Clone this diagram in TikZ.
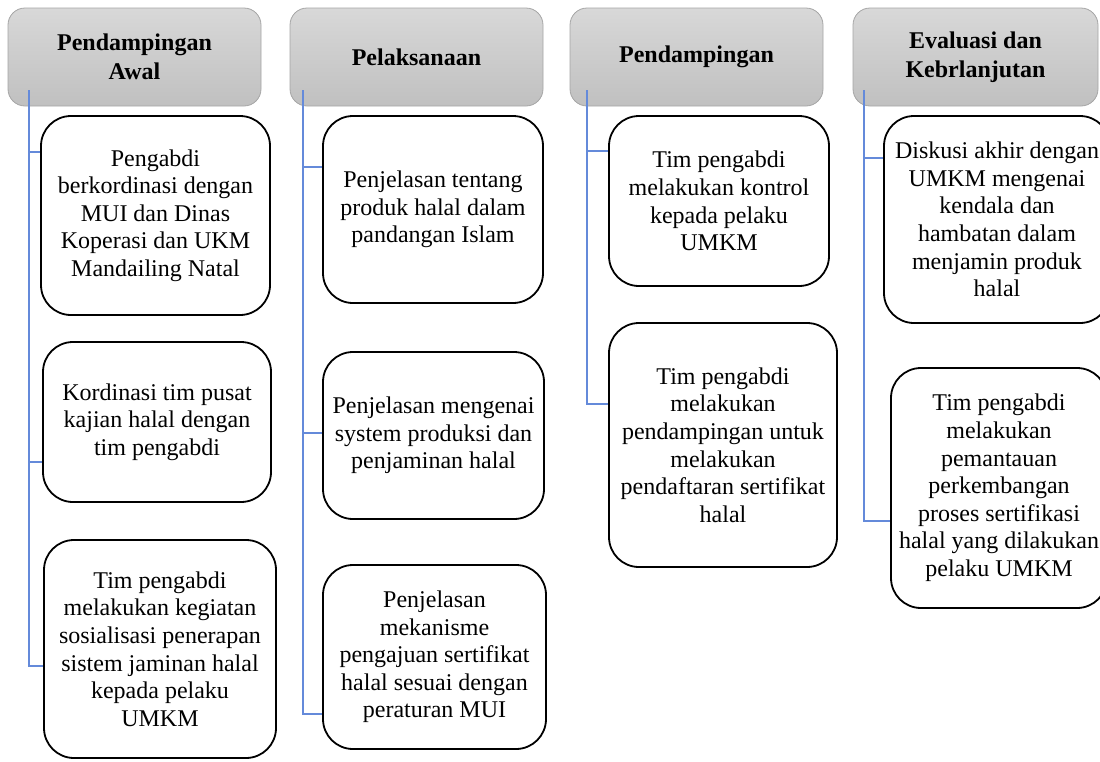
\documentclass[tikz,border=0pt]{standalone}
\usepackage{fontspec}
\setmainfont{Liberation Serif}
\definecolor{hdtop}{RGB}{216,216,216}
\definecolor{hdbot}{RGB}{192,192,192}
\definecolor{hdline}{RGB}{165,165,165}
\definecolor{connblue}{RGB}{100,138,218}
\tikzset{
  hdr/.style={rectangle, rounded corners=17pt, draw=hdline, line width=0.8pt,
    top color=hdtop, bottom color=hdbot, align=center, inner sep=0pt,
    font=\fontsize{24}{28.5}\selectfont\bfseries, minimum height=98pt},
  stepbox/.style={rectangle, rounded corners=30pt, draw=black, line width=1.8pt,
    fill=white, align=center, inner sep=0pt,
    font=\fontsize{24}{27.6}\selectfont},
  conn/.style={draw=connblue, line width=1.4pt}
}
\begin{document}
\begin{tikzpicture}[x=1pt,y=-1pt]
\useasboundingbox (0,0) rectangle (1100,761);
% headers
\node[hdr, minimum width=253pt] (h1) at (134.5,57) {Pendampingan\\Awal};
\node[hdr, minimum width=253pt] (h2) at (416.5,57) {Pelaksanaan};
\node[hdr, minimum width=253pt] (h3) at (696.5,57) {Pendampingan};
\node[hdr, minimum width=245pt] (h4) at (975.5,57) {Evaluasi dan\\Kebrlanjutan};
% column 1
\node[stepbox, minimum width=229pt, minimum height=199pt] (c11) at (155.5,215.5)
  {Pengabdi\\berkordinasi dengan\\MUI dan Dinas\\Koperasi dan UKM\\Mandailing Natal};
\node[stepbox, minimum width=228pt, minimum height=160pt] (c12) at (157,422)
  {Kordinasi tim pusat\\kajian halal dengan\\tim pengabdi};
\node[stepbox, minimum width=232pt, minimum height=218pt] (c13) at (160,649)
  {Tim pengabdi\\melakukan kegiatan\\sosialisasi penerapan\\sistem jaminan halal\\kepada pelaku\\UMKM};
% column 2
\node[stepbox, minimum width=220pt, minimum height=187pt] (c21) at (433,209.5)
  {Penjelasan tentang\\produk halal dalam\\pandangan Islam};
\node[stepbox, minimum width=221pt, minimum height=167pt] (c22) at (433.5,435.5)
  {Penjelasan mengenai\\system produksi dan\\penjaminan halal};
\node[stepbox, minimum width=223pt, minimum height=184pt] (c23) at (434.5,657)
  {Penjelasan\\mekanisme\\pengajuan sertifikat\\halal sesuai dengan\\peraturan MUI};
% column 3
\node[stepbox, minimum width=220pt, minimum height=170pt] (c31) at (719,201)
  {Tim pengabdi\\melakukan kontrol\\kepada pelaku\\UMKM};
\node[stepbox, minimum width=228pt, minimum height=244pt] (c32) at (723,445)
  {Tim pengabdi\\melakukan\\pendampingan untuk\\melakukan\\pendaftaran sertifikat\\halal};
% column 4
\node[stepbox, minimum width=226pt, minimum height=207pt] (c41) at (997,219.5)
  {Diskusi akhir dengan\\UMKM mengenai\\kendala dan\\hambatan dalam\\menjamin produk\\halal};
\node[stepbox, minimum width=216pt, minimum height=240pt] (c42) at (999,488)
  {Tim pengabdi\\melakukan\\pemantauan\\perkembangan\\proses sertifikasi\\halal yang dilakukan\\pelaku UMKM};
% connectors
\coordinate (s1) at (29,90);
\coordinate (s2) at (303,90);
\coordinate (s3) at (587,90);
\coordinate (s4) at (864,90);
\draw[conn] (s1) |- (c13.west |- 0,666);
\draw[conn] (s1 |- 0,152) -- (c11.west |- 0,152);
\draw[conn] (s1 |- 0,462) -- (c12.west |- 0,462);
\draw[conn] (s2) |- (c23.west |- 0,714);
\draw[conn] (s2 |- 0,167) -- (c21.west |- 0,167);
\draw[conn] (s2 |- 0,433) -- (c22.west |- 0,433);
\draw[conn] (s3) |- (c32.west |- 0,404);
\draw[conn] (s3 |- 0,151) -- (c31.west |- 0,151);
\draw[conn] (s4) |- (c42.west |- 0,521);
\draw[conn] (s4 |- 0,158) -- (c41.west |- 0,158);
\end{tikzpicture}
\end{document}
